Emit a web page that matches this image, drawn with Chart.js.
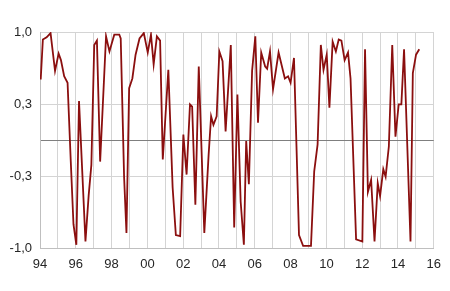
<!DOCTYPE html>
<html>
<head>
<meta charset="utf-8">
<script src="https://cdn.jsdelivr.net/npm/chart.js@4/dist/chart.umd.min.js"></script>
<style>
html,body{margin:0;padding:0;background:#fff;}
#wrap{width:450px;height:291px;position:relative;}
</style>
</head>
<body>
<div id="wrap"><canvas id="c" width="450" height="291"></canvas></div>
<script>
// Time (decimal years) of each reading and the indicator value
const times = [1994.04,1994.16,1994.37,1994.59,1994.84,1995.04,1995.17,1995.35,1995.54,1995.72,1995.87,1996.03,1996.18,1996.54,1996.72,1996.87,1997.03,1997.18,1997.36,1997.69,1997.88,1998.15,1998.43,1998.51,1998.70,1998.83,1998.98,1999.16,1999.34,1999.56,1999.80,2000.02,2000.20,2000.35,2000.53,2000.71,2000.86,2001.17,2001.41,2001.59,2001.83,2002.01,2002.19,2002.38,2002.50,2002.68,2002.87,2003.18,2003.42,2003.56,2003.69,2003.87,2004.02,2004.20,2004.37,2004.66,2004.85,2005.03,2005.21,2005.39,2005.52,2005.67,2005.85,2006.03,2006.18,2006.36,2006.58,2006.69,2006.85,2007.02,2007.33,2007.68,2007.86,2008.00,2008.19,2008.33,2008.47,2008.70,2009.14,2009.32,2009.51,2009.69,2009.84,2010.02,2010.17,2010.35,2010.53,2010.69,2010.84,2011.02,2011.21,2011.35,2011.66,2012.01,2012.16,2012.32,2012.50,2012.69,2012.87,2013.00,2013.18,2013.31,2013.49,2013.68,2013.86,2014.04,2014.19,2014.34,2014.70,2014.83,2015.01,2015.19];
const values = [0.56,0.93,0.95,0.99,0.64,0.80,0.74,0.59,0.53,-0.20,-0.78,-0.97,0.36,-0.94,-0.51,-0.23,0.88,0.92,-0.20,0.96,0.82,0.975,0.975,0.94,-0.35,-0.86,0.48,0.57,0.79,0.94,0.99,0.81,0.975,0.70,0.96,0.92,-0.18,0.65,-0.44,-0.88,-0.89,0.05,-0.32,0.33,0.31,-0.60,0.68,-0.86,-0.14,0.22,0.14,0.22,0.82,0.73,0.08,0.88,-0.81,0.42,-0.57,-0.97,-0.01,-0.41,0.64,0.96,0.16,0.81,0.68,0.66,0.82,0.47,0.81,0.57,0.59,0.53,0.76,-0.06,-0.88,-0.98,-0.98,-0.29,-0.04,0.88,0.65,0.79,0.30,0.91,0.82,0.93,0.92,0.74,0.81,0.57,-0.92,-0.94,0.84,-0.48,-0.37,-0.94,-0.40,-0.52,-0.27,-0.34,-0.06,0.88,0.03,0.33,0.33,0.84,-0.94,0.62,0.79,0.84];
const yTicks = [-1, -1/3, 0, 1/3, 1];
const xMin = 1994, xMax = 2016;

const points = times.map((t, i) => ({x: t, y: values[i]}));
const fmtY = v => Math.abs(v) < 1e-9 ? '' : v.toFixed(1).replace('.', ',');
const fmtX = v => (Math.round(v) % 2 === 0) ? String(Math.round(v) % 100).padStart(2, '0') : '';

new Chart(document.getElementById('c'), {
  type: 'line',
  data: { datasets: [{ data: points, borderColor: '#8b0f0f', borderWidth: 1.8, pointRadius: 0, tension: 0, fill: false }] },
  options: {
    responsive: false, animation: false,
    layout: { padding: { top: 32, right: 9, left: 0, bottom: 0 } },
    plugins: { legend: { display: false }, tooltip: { enabled: false } },
    scales: {
      x: {
        type: 'linear', min: xMin, max: xMax,
        afterBuildTicks: s => { s.ticks = []; for (let y = xMin; y <= xMax; y++) s.ticks.push({ value: y }); },
        ticks: { callback: fmtX, autoSkip: false, maxRotation: 0, color: '#262626', font: { family: 'Liberation Sans, Arial', size: 13 }, padding: 9 },
        grid: { color: '#d4d4d4', drawTicks: false, lineWidth: 1 },
        border: { color: '#bfbfbf' },
        afterFit: s => { s.height = 43; }
      },
      y: {
        min: -1, max: 1,
        afterBuildTicks: s => { s.ticks = yTicks.map(v => ({ value: v })); },
        ticks: { callback: fmtY, autoSkip: false, color: '#262626', font: { family: 'Liberation Sans, Arial', size: 13 }, padding: 8 },
        grid: { color: c => (c.tick && Math.abs(c.tick.value) < 1e-9) ? '#7f7f7f' : '#d4d4d4', drawTicks: false, lineWidth: 1 },
        border: { color: '#bfbfbf' },
        afterFit: s => { s.width = 40; }
      }
    }
  }
});
</script>
</body>
</html>
